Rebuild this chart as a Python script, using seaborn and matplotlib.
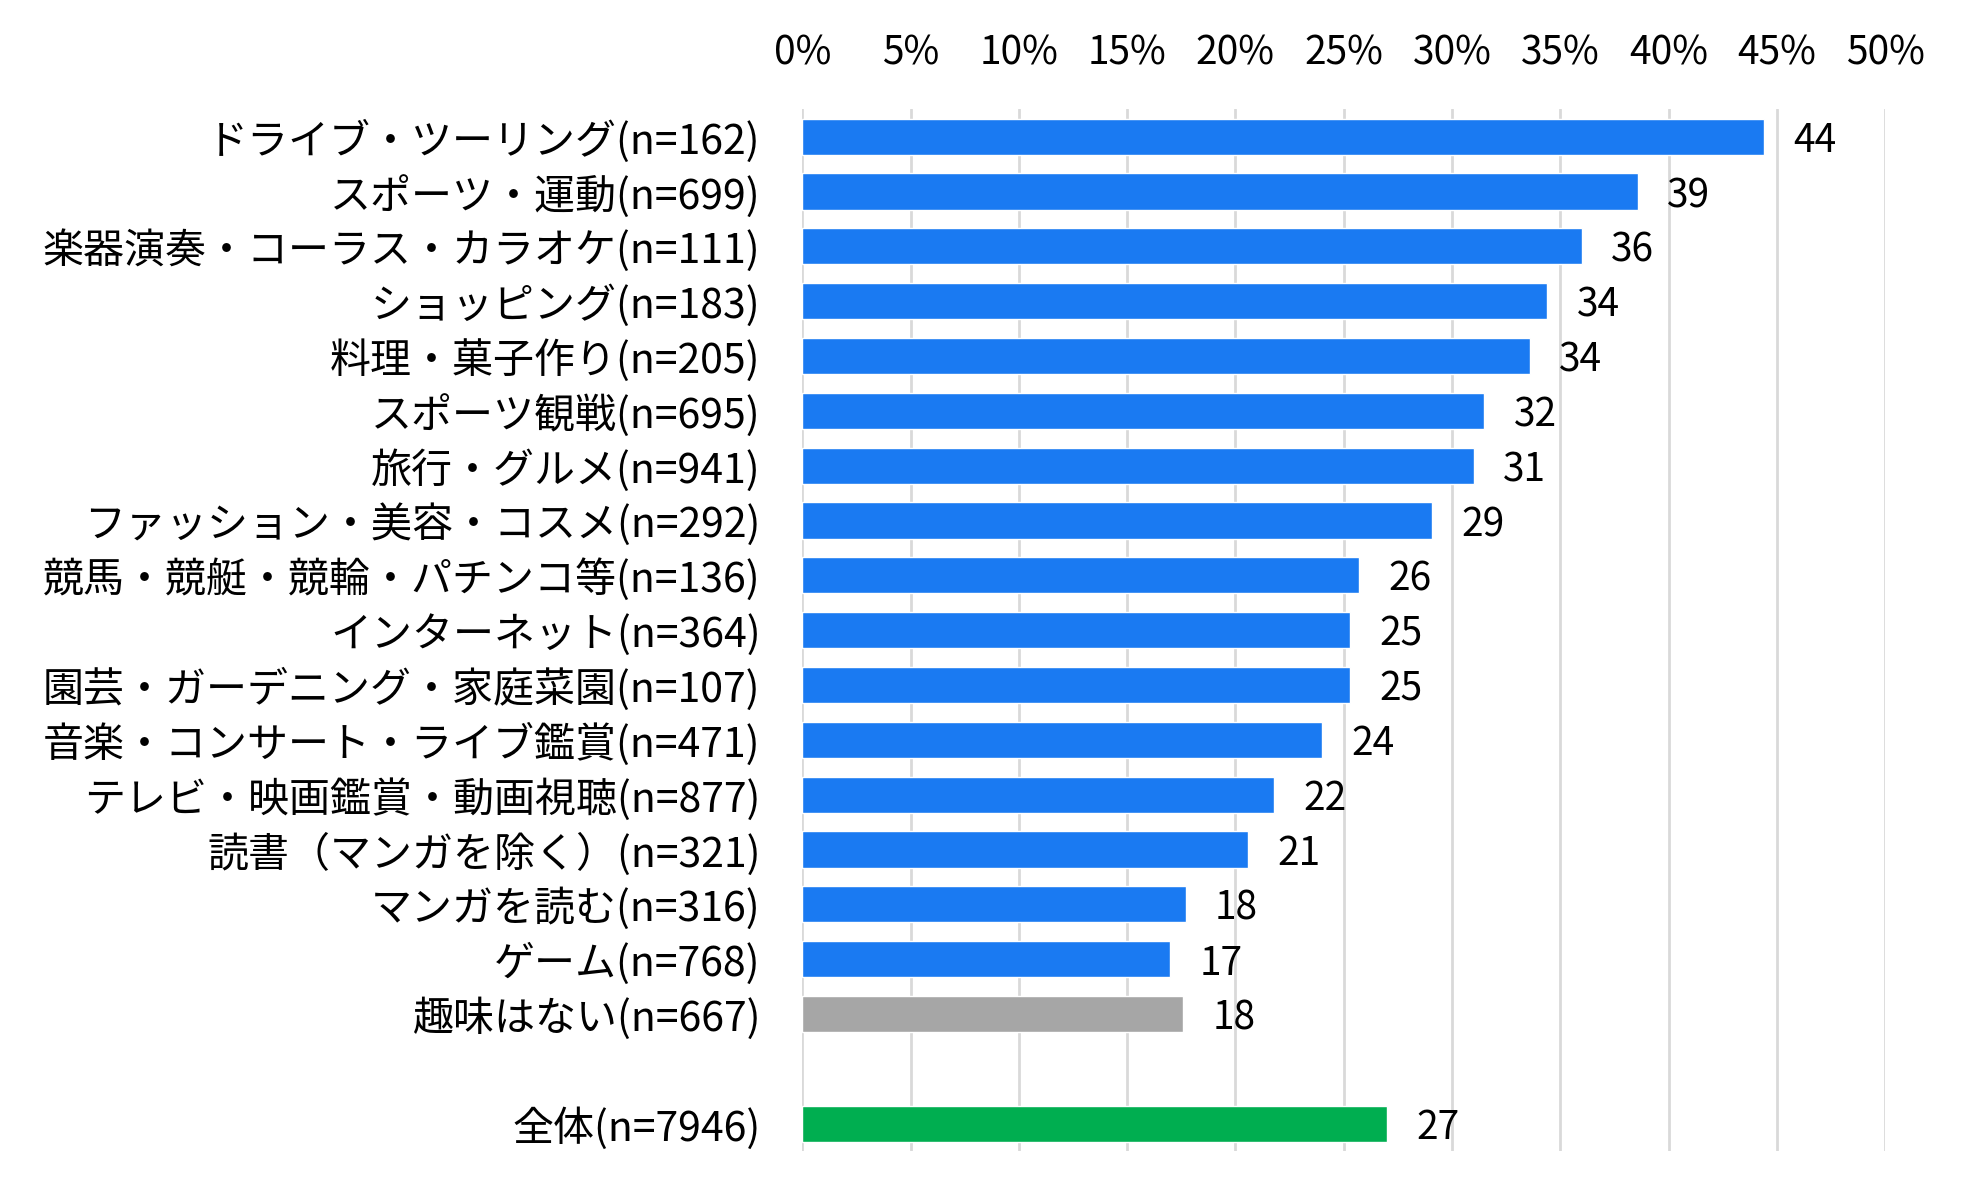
import pandas as pd
import seaborn as sns
import matplotlib.pyplot as plt
from matplotlib.ticker import FuncFormatter

# Hobby categories (top to bottom) and share in percent
hobbies = [
    "ドライブ・ツーリング(n=162)",
    "スポーツ・運動(n=699)",
    "楽器演奏・コーラス・カラオケ(n=111)",
    "ショッピング(n=183)",
    "料理・菓子作り(n=205)",
    "スポーツ観戦(n=695)",
    "旅行・グルメ(n=941)",
    "ファッション・美容・コスメ(n=292)",
    "競馬・競艇・競輪・パチンコ等(n=136)",
    "インターネット(n=364)",
    "園芸・ガーデニング・家庭菜園(n=107)",
    "音楽・コンサート・ライブ鑑賞(n=471)",
    "テレビ・映画鑑賞・動画視聴(n=877)",
    "読書（マンガを除く）(n=321)",
    "マンガを読む(n=316)",
    "ゲーム(n=768)",
    "趣味はない(n=667)",
]
hobby_values = [44.4, 38.6, 36.0, 34.4, 33.6, 31.5, 31.0, 29.1, 25.7,
                25.3, 25.3, 24.0, 21.8, 20.6, 17.7, 17.0, 17.6]

total_label = "全体(n=7946)"
total_value = 27.0

groups = ["hobby"] * 16 + ["none"]

df = pd.DataFrame({
    "label": hobbies + [total_label],
    "value": hobby_values + [total_value],
    "group": groups + ["all"],
})

# blank slot between the hobby list and the total bar
order = hobbies + [" "] + [total_label]

palette = {"hobby": "#1a7af2", "none": "#a6a6a6", "all": "#00ae50"}

sns.set_style("white")
plt.rcParams["font.family"] = ["Noto Sans CJK JP", "DejaVu Sans"]
plt.rcParams["font.size"] = 28

fig, ax = plt.subplots(figsize=(19.76, 12.01), dpi=100)
fig.subplots_adjust(left=0.406, right=0.954, top=0.909, bottom=0.0416)

sns.barplot(data=df, x="value", y="label", hue="group", order=order,
            palette=palette, dodge=False, width=0.66, saturation=1,
            legend=False, ax=ax)

for container in ax.containers:
    texts = ax.bar_label(container, fmt="%.0f", padding=21, fontsize=28, color="black")
    for t in texts:
        t.set_verticalalignment("center_baseline")

ax.set_xlim(0, 50)
ax.set_xticks(range(0, 51, 5))
ax.xaxis.set_major_formatter(FuncFormatter(lambda v, p: f"{v:.0f}%"))
ax.xaxis.tick_top()
ax.tick_params(axis="x", length=0, pad=26, labelsize=28, colors="black")
ax.tick_params(axis="y", length=0, pad=30, labelsize=29.5, colors="black")

ax.grid(axis="x", color="#d9d9d9", linewidth=2)
ax.grid(axis="y", visible=False)
ax.set_axisbelow(True)
for s in ax.spines.values():
    s.set_visible(False)

ax.set_xlabel("")
ax.set_ylabel("")

plt.savefig("out.png", dpi=100)
